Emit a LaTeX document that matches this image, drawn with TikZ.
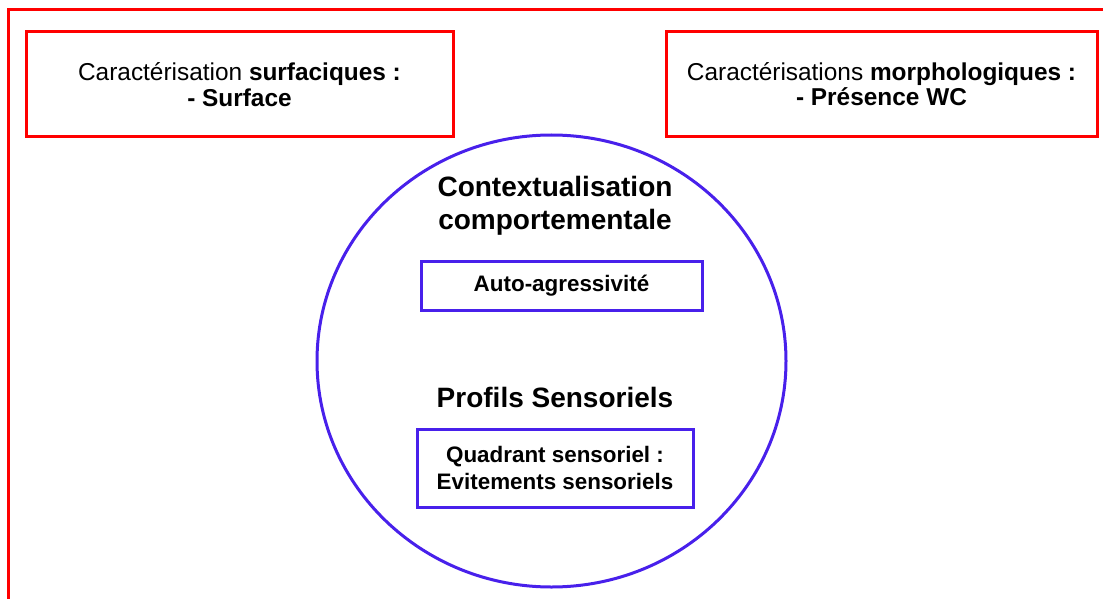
\documentclass[tikz,border=0pt]{standalone}
\usepackage{fontspec}
\setmainfont{Liberation Sans}
\usetikzlibrary{shapes.geometric}
\definecolor{frameRed}{RGB}{255,0,0}
\definecolor{ctxBlue}{RGB}{72,32,235}
\begin{document}
\begin{tikzpicture}[x=0.5pt, y=-0.5pt,
    caracBox/.style={draw=frameRed, line width=1.5pt, minimum height=52.5pt, align=center, inner sep=0pt, font=\fontsize{12.2}{12.8}\selectfont},
    ctxBox/.style={draw=ctxBlue, line width=1.5pt, align=center, inner sep=0pt, font=\fontsize{11.2}{13.5}\selectfont\bfseries},
    ctxTitle/.style={align=center, font=\fontsize{14}{16.5}\selectfont\bfseries}]
    
    \useasboundingbox (0, 0) rectangle (1103, 599);
    \draw[frameRed, line width=1.5pt] (8.5, 602) -- (8.5, 10) -- (1106, 10);
    
    \node[caracBox, minimum width=213.5pt] (surf) at (239.5, 84.5) {Caractérisation \textbf{surfaciques :}\\\textbf{- Surface}};
    \node[caracBox, minimum width=215.5pt] (morpho) at (881.5, 84) {Caractérisations \textbf{morphologiques :}\\\textbf{- Présence WC}};
    
    \node[draw=ctxBlue, line width=1.5pt, ellipse, inner sep=0pt, minimum width=234.5pt, minimum height=226pt] (ctx) at (551.5, 361) {};
    
    \node[ctxTitle] (comport) at (555, 206) {Contextualisation\\comportementale};
    \node[ctxBox, minimum width=140.5pt, minimum height=24.5pt] (auto) at (561.5, 285.5) {Auto-agressivité};
    \node[ctxTitle] (profils) at (555, 397) {Profils Sensoriels};
    \node[ctxBox, minimum width=138pt, minimum height=39pt] (quad) at (555, 468) {Quadrant sensoriel :\\Evitements sensoriels};
\end{tikzpicture}
\end{document}
